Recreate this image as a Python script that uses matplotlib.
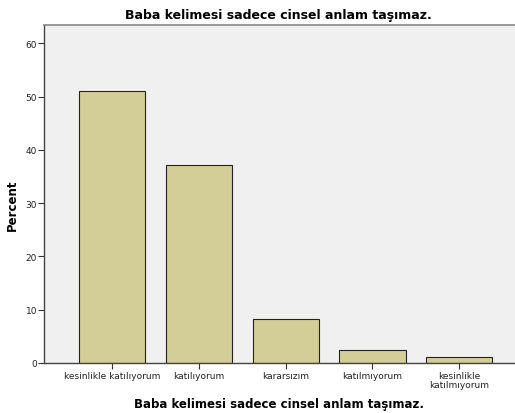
import matplotlib.pyplot as plt

categories = ["kesinlikle katılıyorum", "katılıyorum", "kararsızım", "katılmıyorum",
              "kesinlikle\nkatılmıyorum"]
percent = [51.1, 37.1, 8.2, 2.5, 1.1]
yticks = [0, 10, 20, 30, 40, 50, 60]

title = "Baba kelimesi sadece cinsel anlam taşımaz."

fig = plt.figure(figsize=(5.15, 4.14), dpi=100)
ax = fig.add_axes([0.0854, 0.1208, 0.9146, 0.8162])
ax.set_facecolor("#F0F0F0")

x = range(len(categories))
ax.bar(x, percent, width=0.76, color="#D3CE97", edgecolor="#222222", linewidth=0.8, zorder=2)

ax.set_xlim(-0.78, 4.64)
ax.set_ylim(0, 63.4)
ax.set_yticks(yticks)
ax.set_xticks(list(x))
ax.set_xticklabels(categories, fontsize=6.5, linespacing=0.95, color="#222222")
ax.tick_params(axis="y", labelsize=6.5, labelcolor="#222222", length=4, width=0.8, pad=1, color="#333333")
ax.tick_params(axis="x", length=4, width=0.8, pad=2, color="#333333")

for s in ["left", "bottom"]:
    ax.spines[s].set_color("#444444")
    ax.spines[s].set_linewidth(1.0)
ax.spines["top"].set_color("#888888")
ax.spines["top"].set_linewidth(1.2)
ax.spines["right"].set_visible(False)

fig.text(12 / 515, 1 - 205 / 414, "Percent", rotation=90, ha="center", va="center",
         fontsize=8.5, fontweight="bold")
fig.text(279 / 515, 1 - 405 / 414, title, ha="center", va="center", fontsize=8.5, fontweight="bold")
fig.text(0.54, 0.962, title, ha="center", va="center", fontsize=9, fontweight="bold")

fig.savefig("out.png", dpi=100)
